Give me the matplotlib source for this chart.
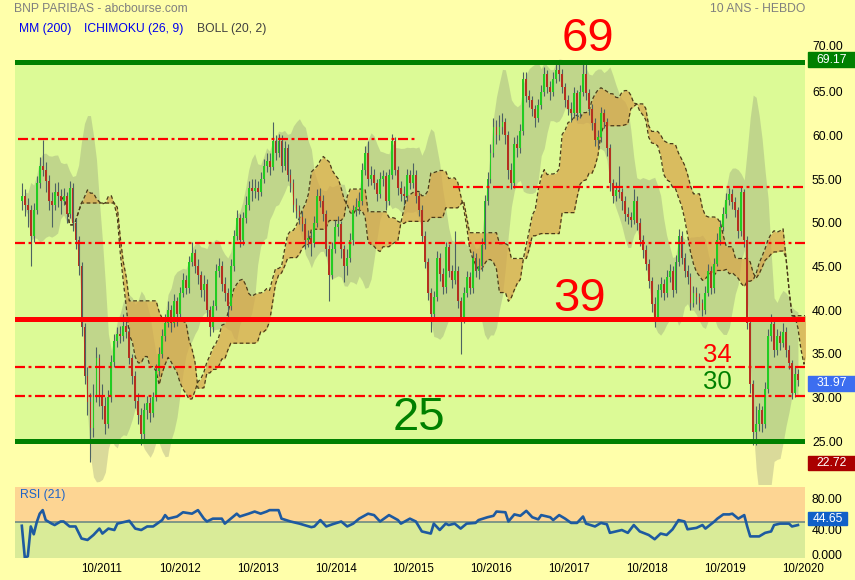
import numpy as np
import pandas as pd
import matplotlib
matplotlib.use("Agg")
import matplotlib.pyplot as plt
import matplotlib.dates as mdates
from matplotlib.patches import Rectangle
from matplotlib.transforms import blended_transform_factory, ScaledTranslation

plt.rcParams['font.family'] = ['Liberation Sans', 'DejaVu Sans']

W, H = 855, 580  # output size in pixels

# Weekly chart, one candle every two weeks
first_date = '2010-09-20'
first_open = 52.5
close = [
    53.0, 52.0, 51.5, 48.5, 51.5, 54.5, 56.5, 56.0, 54.8, 52.5,
    52.0, 53.5, 53.0, 52.5, 53.0, 51.0, 54.0, 50.0, 48.0, 45.0,
    38.0, 32.5, 29.5, 26.5, 30.0, 34.5, 30.0, 29.0, 27.0, 30.0,
    34.0, 36.5, 37.3, 37.0, 38.2, 37.5, 34.5, 32.5, 29.6, 28.0,
    25.8, 28.5, 29.3, 28.2, 30.0, 33.0, 35.0, 37.0, 38.5, 40.0,
    38.5, 41.0, 39.5, 42.0, 43.4, 42.5, 45.5, 46.5, 45.0, 44.0,
    42.3, 43.0, 40.0, 38.0, 40.5, 44.5, 45.0, 43.0, 42.0, 40.5,
    45.0, 48.5, 50.5, 48.0, 50.5, 52.0, 54.0, 53.6, 54.0, 53.5,
    55.0, 56.5, 57.1, 56.4, 59.3, 58.0, 59.4, 56.5, 58.5, 55.5,
    54.5, 52.0, 51.3, 50.6, 49.9, 48.0, 48.2, 47.7, 50.0, 53.0,
    52.5, 51.0, 47.0, 44.0, 47.0, 49.5, 49.8, 47.0, 45.0, 46.0,
    48.0, 51.4, 51.8, 52.5, 56.0, 58.0, 55.0, 55.5, 54.5, 53.3,
    55.0, 55.3, 52.5, 55.5, 59.3, 56.0, 54.0, 53.3, 53.0, 55.5,
    54.5, 55.5, 53.0, 51.5, 48.5, 45.5, 42.0, 39.5, 41.5, 46.0,
    44.1, 42.6, 47.2, 44.5, 43.4, 44.5, 41.0, 39.0, 42.0, 43.8,
    42.5, 46.0, 44.5, 45.0, 47.5, 52.5, 55.0, 58.0, 61.0, 60.0,
    61.0, 61.5, 60.0, 56.0, 54.5, 59.0, 58.5, 60.5, 66.5, 64.5,
    64.0, 63.0, 62.0, 63.5, 65.0, 67.0, 65.5, 65.0, 66.5, 67.5,
    67.0, 65.5, 64.0, 63.0, 62.5, 64.8, 62.5, 65.0, 67.0, 64.8,
    63.0, 61.4, 59.5, 59.8, 62.5, 61.5, 58.5, 54.5, 53.0, 53.7,
    53.5, 52.5, 51.0, 50.7, 50.3, 52.5, 50.0, 48.0, 46.9, 45.3,
    43.3, 40.7, 39.2, 42.3, 43.0, 42.0, 43.8, 44.5, 42.3, 45.5,
    48.5, 46.0, 44.5, 43.8, 40.8, 42.0, 41.5, 40.8, 40.0, 42.0,
    44.5, 42.5, 45.3, 48.0, 49.5, 51.0, 52.6, 53.3, 52.4, 51.4,
    49.0, 53.5, 48.0, 38.5, 31.5, 26.0, 27.0, 28.5, 27.0, 31.0,
    37.0, 38.4, 35.4, 37.0, 36.2, 37.5, 35.4, 33.9, 30.5, 32.7,
    31.97,
]
high = [
    54.5, 53.8, 52.8, 52.0, 52.3, 55.3, 57.5, 59.5, 57.0, 55.5,
    53.5, 54.5, 54.6, 53.8, 54.0, 53.5, 54.8, 54.5, 50.5, 48.5,
    45.5, 38.5, 33.5, 30.5, 31.5, 35.8, 35.0, 31.5, 30.0, 30.8,
    34.8, 37.2, 38.0, 38.2, 39.5, 39.0, 38.0, 35.0, 33.0, 30.5,
    28.8, 29.3, 30.2, 30.0, 30.6, 33.8, 35.8, 37.8, 39.6, 41.0,
    40.6, 41.8, 41.5, 42.6, 44.2, 44.0, 46.2, 47.8, 47.0, 45.8,
    44.5, 44.0, 43.5, 40.5, 41.2, 45.3, 46.0, 45.6, 43.8, 42.5,
    45.8, 49.2, 51.5, 51.0, 51.2, 53.0, 54.8, 55.0, 55.0, 54.8,
    55.8, 57.3, 58.0, 58.0, 61.5, 60.0, 60.2, 60.0, 59.3, 59.0,
    56.2, 55.0, 52.8, 52.0, 51.3, 50.5, 49.2, 49.0, 50.8, 53.8,
    54.0, 53.2, 51.5, 47.5, 47.8, 50.3, 50.8, 50.2, 47.5, 47.0,
    48.8, 52.0, 52.8, 53.5, 56.8, 58.8, 59.3, 56.5, 56.2, 55.0,
    55.8, 56.0, 55.8, 56.2, 60.2, 59.8, 56.5, 54.8, 54.2, 56.2,
    56.0, 56.8, 56.0, 53.5, 52.0, 49.0, 46.0, 42.5, 42.2, 46.8,
    46.5, 44.8, 47.8, 47.6, 45.2, 49.0, 45.0, 41.5, 42.6, 44.5,
    44.3, 46.8, 46.5, 46.0, 48.2, 53.2, 55.8, 59.0, 62.0, 61.8,
    62.3, 62.5, 62.0, 60.5, 56.8, 59.8, 60.0, 61.3, 67.3, 67.2,
    65.2, 64.5, 63.5, 64.2, 65.8, 67.8, 67.5, 66.2, 67.2, 68.4,
    68.2, 67.6, 66.0, 64.6, 63.8, 65.5, 65.2, 65.8, 68.3, 68.6,
    65.3, 63.6, 62.0, 60.6, 63.3, 63.0, 62.0, 59.0, 55.0, 54.6,
    56.5, 54.0, 53.0, 51.8, 51.2, 53.8, 53.0, 50.5, 48.6, 47.4,
    45.8, 43.8, 41.5, 43.0, 43.8, 43.5, 44.6, 45.3, 45.0, 46.3,
    49.3, 49.0, 46.5, 45.2, 44.2, 42.8, 42.6, 42.0, 41.3, 42.8,
    45.3, 45.0, 46.0, 48.8, 50.3, 51.8, 53.4, 54.0, 53.8, 52.9,
    51.8, 54.2, 53.8, 48.5, 38.8, 32.0, 29.0, 29.3, 29.0, 31.8,
    37.8, 39.5, 38.8, 37.8, 37.6, 38.5, 38.0, 36.0, 34.3, 33.5,
    33.2,
]
low = [
    51.5, 50.8, 49.5, 45.0, 47.8, 51.0, 54.0, 55.3, 53.5, 51.5,
    49.5, 51.5, 51.8, 51.0, 52.0, 50.0, 50.5, 49.0, 47.0, 44.0,
    37.0, 31.5, 28.0, 22.6, 25.5, 29.5, 29.0, 27.5, 25.8, 26.5,
    29.5, 33.5, 35.8, 36.2, 36.5, 36.8, 33.8, 31.5, 28.8, 27.0,
    24.6, 25.0, 27.5, 27.2, 27.8, 29.6, 32.5, 34.5, 36.5, 38.0,
    37.5, 38.0, 38.2, 39.0, 41.5, 41.8, 42.0, 45.0, 44.2, 43.0,
    41.5, 41.0, 39.2, 37.0, 37.5, 40.0, 43.8, 42.2, 41.0, 39.0,
    40.0, 44.5, 48.0, 47.2, 47.5, 50.0, 51.5, 52.5, 52.8, 52.6,
    53.0, 54.5, 55.8, 55.5, 56.0, 57.2, 57.5, 55.8, 56.0, 54.8,
    53.5, 51.2, 50.5, 49.8, 49.0, 47.0, 47.2, 46.2, 47.2, 49.5,
    51.8, 50.2, 46.2, 41.0, 43.5, 46.5, 48.5, 46.0, 43.2, 44.0,
    45.5, 47.5, 50.8, 51.0, 52.0, 55.5, 54.2, 54.3, 53.8, 52.5,
    52.8, 54.2, 51.5, 52.0, 55.0, 55.5, 53.2, 52.5, 52.0, 52.5,
    53.8, 54.0, 52.3, 50.8, 47.8, 44.8, 41.2, 37.5, 39.0, 41.0,
    43.3, 41.8, 42.0, 43.8, 42.5, 43.0, 40.2, 35.0, 38.5, 41.5,
    41.8, 42.0, 43.8, 43.5, 44.5, 47.0, 52.0, 54.5, 57.5, 59.0,
    59.5, 60.2, 59.0, 55.0, 53.8, 54.0, 57.5, 58.0, 60.0, 63.8,
    63.2, 62.2, 61.0, 61.5, 63.0, 64.5, 64.8, 64.0, 64.5, 66.0,
    66.2, 64.8, 63.2, 62.3, 61.5, 62.0, 61.8, 62.0, 64.5, 64.0,
    62.3, 60.6, 58.8, 58.6, 59.2, 60.8, 57.6, 53.6, 52.3, 52.5,
    52.8, 51.5, 50.2, 49.8, 49.5, 49.8, 49.2, 47.3, 46.0, 44.6,
    42.5, 39.8, 38.0, 38.8, 41.5, 41.2, 41.5, 43.2, 41.5, 42.0,
    45.0, 45.3, 43.8, 43.0, 40.0, 40.3, 40.7, 40.0, 39.3, 39.6,
    41.6, 41.8, 42.0, 45.0, 47.5, 49.0, 50.5, 52.0, 51.6, 50.6,
    48.3, 48.5, 47.2, 37.8, 30.5, 24.5, 24.6, 26.2, 26.0, 26.5,
    30.5, 36.5, 34.6, 34.8, 35.4, 35.8, 34.6, 33.2, 29.8, 30.0,
    31.3,
]

# RSI (21): candle index and value
rsi_bar = [
    0, 1, 2, 3, 4, 5, 6, 7, 8, 10, 11, 13, 14, 16, 18, 20, 22, 24, 26, 27,
    29, 31, 32, 36, 38, 40, 42, 44, 47, 48, 49, 52, 54, 57, 59, 61, 62, 64, 67, 68,
    70, 72, 73, 76, 78, 80, 82, 83, 86, 87, 90, 93, 97, 98, 100, 102, 104, 107, 109, 111,
    113, 116, 118, 120, 123, 126, 127, 130, 132, 134, 137, 138, 140, 142, 143, 145, 147, 149, 152, 153,
    156, 158, 159, 162, 163, 165, 167, 169, 171, 173, 174, 177, 178, 180, 182, 184, 186, 188, 189, 192,
    194, 196, 197, 199, 201, 203, 205, 207, 210, 212, 214, 216, 218, 220, 222, 223, 226, 228, 229, 232,
    233, 235, 237, 238, 240, 242, 243, 244, 247, 249, 251, 252, 254, 257, 258, 260,
]
rsi_value = [
    45, 0, 2, 44, 33, 50, 62, 67, 53, 48, 46, 51, 51, 44, 44, 27, 25, 32, 41, 34,
    41, 39, 48, 52, 41, 39, 44, 44, 53, 60, 55, 58, 64, 62, 67, 55, 51, 55, 55, 48,
    55, 62, 58, 62, 65, 62, 65, 67, 67, 55, 51, 48, 43, 44, 53, 44, 47, 51, 44, 48,
    55, 62, 60, 51, 60, 53, 48, 55, 51, 37, 34, 48, 39, 48, 46, 48, 41, 48, 49, 53,
    57, 59, 65, 64, 51, 61, 59, 66, 57, 54, 60, 57, 53, 60, 55, 49, 49, 58, 48, 44,
    49, 47, 35, 37, 39, 35, 46, 37, 32, 26, 34, 32, 40, 53, 51, 40, 42, 46, 41, 51,
    55, 61, 61, 62, 55, 60, 44, 30, 30, 35, 37, 46, 48, 48, 44, 46,
]

# Chart annotations
support_lo = 25.0
resist_hi = 68.35
pivot = 38.95
dashdot_levels = [59.55, 54.1, 47.7, 33.5, 30.2]
dashdot_spans = [(0.004, 0.506), (0.554, 1.0), (0.0, 1.0), (0.0, 1.0), (0.0, 1.0)]
price_ticks = [25, 30, 35, 40, 45, 50, 55, 60, 65, 70]
rsi_ticks = [0, 40, 80]
rsi_tick_labels = ['0.000', '40.00', '80.00']
year_ticks = list(range(2011, 2021))

# Indicator settings in candles (2 weeks each)
BOLL_N, BOLL_K = 10, 2
TENKAN_N, KIJUN_N, SPANB_N, SHIFT = 5, 13, 26, 13

# colours
BG = '#FFFFAA'
ZONE = '#DCFA96'
UP = '#22CC22'
DOWN = '#B43020'
WICK = '#4D6262'
RED = '#FF0000'
GREEN = '#008000'

n = len(close)
dates = pd.date_range(first_date, periods=n, freq='14D')
x = mdates.date2num(dates.to_pydatetime())
step = 14.0

c = pd.Series(close)
hi = pd.Series(high)
lo = pd.Series(low)
opens = np.array([first_open] + close[:-1])
closes = np.array(close)

# Bollinger bands
mid = c.rolling(BOLL_N, min_periods=2).mean()
sd = c.rolling(BOLL_N, min_periods=2).std(ddof=0)
upper = mid + BOLL_K * sd
lower = mid - BOLL_K * sd

# Ichimoku cloud
tenkan = (hi.rolling(TENKAN_N, min_periods=1).max() + lo.rolling(TENKAN_N, min_periods=1).min()) / 2
kijun = (hi.rolling(KIJUN_N, min_periods=1).max() + lo.rolling(KIJUN_N, min_periods=1).min()) / 2
span_a = (tenkan + kijun) / 2
span_b = (hi.rolling(SPANB_N, min_periods=1).max() + lo.rolling(SPANB_N, min_periods=1).min()) / 2
x_cloud = x + SHIFT * step

x_rsi = x[np.array(rsi_bar)]


def fx(px):
    return px / W


def fy(py):
    return 1 - py / H


fig = plt.figure(figsize=(W / 100, H / 100), dpi=100, facecolor=BG)
ax = fig.add_axes([fx(15), fy(484), 790 / W, 443 / H], facecolor=BG)
rax = fig.add_axes([fx(15), fy(557.7), 790 / W, 71 / H], sharex=ax)

# --- main price panel ---
ax.axhspan(support_lo, resist_hi, color=ZONE, lw=0, zorder=0)
ax.fill_between(x, lower, upper, color='#6E6E6E', alpha=0.25, lw=0, zorder=1)
ax.fill_between(x_cloud, span_a, span_b, color='#D9A54A', alpha=0.72, lw=0, zorder=2)
ax.plot(x_cloud, span_a, color='#4A3A1A', lw=0.9, dashes=(3, 2), zorder=3)
ax.plot(x_cloud, span_b, color='#4A3A1A', lw=0.9, dashes=(3, 2), zorder=3)

body_lo = np.minimum(opens, closes)
body_h = np.maximum(np.abs(closes - opens), 0.15)
colors = [UP if cl >= op else DOWN for op, cl in zip(opens, closes)]
ax.vlines(x, low, high, color=WICK, lw=0.8, zorder=4)
ax.bar(x, body_h, bottom=body_lo, width=step * 0.62, color=colors, lw=0, zorder=5)

ax.axhline(resist_hi, color=GREEN, lw=3.6, zorder=6)
ax.axhline(support_lo, color=GREEN, lw=3.6, zorder=6)
ax.axhline(pivot, color=RED, lw=3.6, zorder=6)
for lvl, (a, b) in zip(dashdot_levels, dashdot_spans):
    ax.axhline(lvl, xmin=a, xmax=b, color=RED, lw=1.6,
               linestyle=(0, (4.5, 1.6, 1.3, 1.6)), zorder=6)

ax.set_ylim(20.08, 70.8)
ax.set_xlim(mdates.datestr2num('2010-08-19'), mdates.datestr2num('2020-10-10'))
ax.yaxis.tick_right()
ax.set_yticks(price_ticks)
ax.set_yticklabels(['%.2f' % v for v in price_ticks])
ax.tick_params(axis='y', length=0, pad=5, labelsize=8.7, colors='black')
ax.tick_params(axis='x', length=0, labelbottom=False)
ax.get_yticklabels()[-1].set_transform(
    ax.get_yticklabels()[-1].get_transform() + ScaledTranslation(0, 2 / 72, fig.dpi_scale_trans))
for s in ax.spines.values():
    s.set_visible(False)


# value boxes on the right
def value_box(axis, yval, text, color, height, x0=808, x1=855):
    trans = blended_transform_factory(fig.transFigure, axis.transData)
    axis.add_patch(Rectangle((fx(x0), yval - height / 2), (x1 - x0) / W, height,
                             transform=trans, color=color, clip_on=False, zorder=10))
    axis.text(fx((x0 + x1) / 2), yval, text, transform=trans, color='white',
              ha='center', va='center', fontsize=8.7, clip_on=False, zorder=11)


value_box(ax, 68.65, '69.17', GREEN, 1.7)
value_box(ax, 31.6, '31.97', '#3C6EF0', 1.75)
value_box(ax, 22.5, '22.72', '#AA0000', 1.6)

# --- RSI panel ---
rax.axhspan(50, 100, color='#FDD593', lw=0, zorder=0)
rax.axhspan(0, 50, color='#D9EB98', lw=0, zorder=0)
rax.axhline(50, color='#6E8A84', lw=1.2, zorder=1)
rax.plot(x_rsi, rsi_value, color='#1E5AA0', lw=1.9, zorder=2)
rax.set_ylim(0, 100)
rax.yaxis.tick_right()
rax.set_yticks(rsi_ticks)
rax.set_yticklabels(rsi_tick_labels)
rax.tick_params(axis='y', length=0, pad=5, labelsize=8.7)
shift_up = ScaledTranslation(0, 2 / 72, fig.dpi_scale_trans)
for lab, val in zip(rax.get_yticklabels(), rsi_ticks):
    if val != 40:
        lab.set_transform(lab.get_transform() + shift_up)
rax.set_xticks([mdates.datestr2num('%d-10-01' % yr) for yr in year_ticks])
rax.set_xticklabels(['10/%d' % yr for yr in year_ticks])
rax.tick_params(axis='x', length=0, pad=4, labelsize=8.3)
for s in rax.spines.values():
    s.set_visible(False)
rax.text(0.006, 0.88, 'RSI (21)', transform=rax.transAxes, color='#1E64C8',
         fontsize=8.7, ha='left', va='center')
value_box(rax, 55, '44.65', '#1060C8', 19, x1=847)

# --- big level labels (pixel positions) ---
for txt, px, py, size, col in [('69', 588, 39, 34, RED), ('39', 580, 299, 34, RED),
                               ('25', 419, 418, 34, GREEN), ('34', 717, 355, 18.5, RED),
                               ('30', 717, 382, 18.5, GREEN)]:
    fig.text(fx(px), fy(py), txt, fontsize=size, color=col, ha='center', va='center', zorder=20)

# --- headers ---
fig.text(fx(14), fy(9), 'BNP PARIBAS - abcbourse.com', color='#7F7F7F', fontsize=8.7,
         ha='left', va='center')
fig.text(fx(805), fy(9), '10 ANS - HEBDO', color='#7F7F7F', fontsize=8.7,
         ha='right', va='center')
fig.text(fx(19), fy(29), 'MM (200)', color='#0000EE', fontsize=8.7, ha='left', va='center')
fig.text(fx(84), fy(29), 'ICHIMOKU (26, 9)', color='#0000EE', fontsize=8.7, ha='left', va='center')
fig.text(fx(197), fy(29), 'BOLL (20, 2)', color='#404040', fontsize=8.7, ha='left', va='center')

fig.savefig('out.png', dpi=100, facecolor=BG)
